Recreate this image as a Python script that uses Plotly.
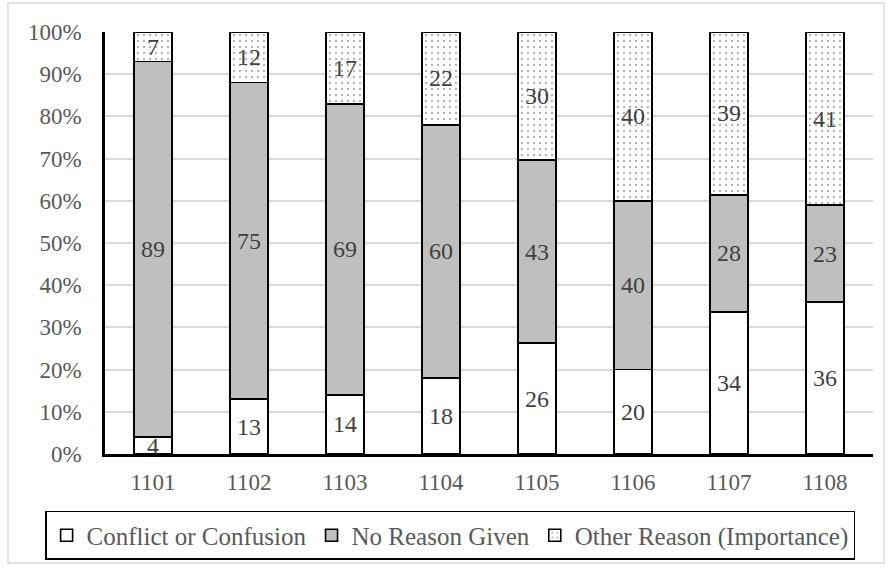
import plotly.graph_objects as go

categories = ["1101", "1102", "1103", "1104", "1105", "1106", "1107", "1108"]
conflict = [4, 13, 14, 18, 26, 20, 34, 36]
no_reason = [89, 75, 69, 60, 43, 40, 28, 23]
other = [7, 12, 17, 22, 30, 40, 39, 41]
series_names = ["Conflict or Confusion", "No Reason Given", "Other Reason (Importance)"]

FONT = "Times New Roman, Liberation Serif, Tinos, serif"
TICK_COLOR = "#595959"
LABEL_COLOR = "#404040"
LABEL_SIZE = 24
TICK_SIZE = 23
LEGEND_SIZE = 25

fills = ["white", "#bfbfbf", "white"]
values = [conflict, no_reason, other]

fig = go.Figure()
for i, (name, vals, fill) in enumerate(zip(series_names, values, fills)):
    marker = dict(color=fill, line=dict(color="black", width=1.6))
    if i == 2:
        marker["pattern"] = dict(shape=".", fgcolor="#404040", bgcolor="white",
                                 size=6, solidity=0.1)
    fig.add_trace(go.Bar(
        x=categories, y=vals, name=name,
        text=vals, textposition="inside", insidetextanchor="middle", textangle=0,
        marker=marker,
        textfont=dict(family=FONT, size=LABEL_SIZE, color=LABEL_COLOR),
    ))

fig.update_layout(
    width=891, height=571,
    margin=dict(l=105, r=18, t=32, b=117, autoexpand=False),
    barmode="stack", barnorm="percent", bargap=0.6,
    plot_bgcolor="white", paper_bgcolor="white",
    font=dict(family=FONT, size=TICK_SIZE, color=TICK_COLOR),
    uniformtext=dict(minsize=LABEL_SIZE, mode="show"),
    showlegend=True,
    legend=dict(orientation="h", x=-0.078, xanchor="left", y=-0.135, yanchor="top",
                traceorder="normal", bordercolor="black", borderwidth=1.5,
                font=dict(family=FONT, size=LEGEND_SIZE, color=TICK_COLOR),
                itemwidth=30, tracegroupgap=0),
    xaxis=dict(showline=True, linecolor="black", linewidth=2.5, ticks="",
               ticklabelstandoff=6,
               tickfont=dict(family=FONT, size=TICK_SIZE, color=TICK_COLOR)),
    yaxis=dict(range=[0, 100], dtick=10, ticksuffix="%", showline=True,
               linecolor="black", linewidth=2.5, showgrid=True, gridcolor="#d9d9d9",
               gridwidth=1.5, ticks="", zeroline=False, ticklabelstandoff=16,
               tickfont=dict(family=FONT, size=TICK_SIZE, color=TICK_COLOR)),
    shapes=[dict(type="rect", xref="paper", yref="paper",
                 x0=-0.1263, x1=1.0143, y0=-0.258, y1=1.0687,
                 line=dict(color="#d9d9d9", width=1.5), layer="below")],
)

fig.write_html("out.html")
